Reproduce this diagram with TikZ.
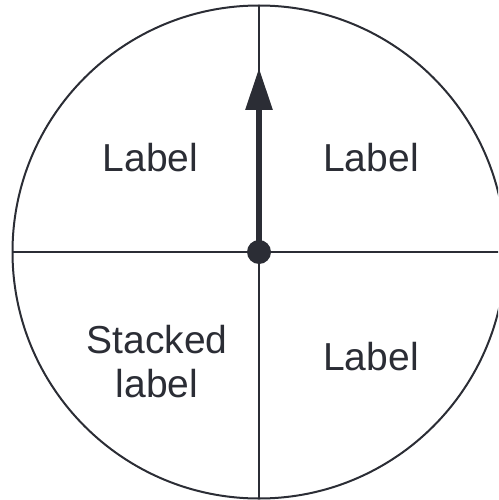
\documentclass[tikz,border=0pt]{standalone}
\usepackage{fontspec}
\setsansfont{Liberation Sans}
\usetikzlibrary{arrows.meta}
\definecolor{ink}{HTML}{2B2D35}
\tikzset{
    sector/.style={text=ink, font=\sffamily\fontsize{39}{44}\selectfont, align=center, inner sep=0pt},
}
\begin{document}
\begin{tikzpicture}[x=1pt, y=-1pt, line width=2pt, color=ink]
    \clip (0,0) rectangle (498,500);
    % Wheel and its two diameters
    \coordinate (O) at (259,252);
    \draw (O) circle (246.5);
    \coordinate (top) at (259,5.5);
    \coordinate (bottom) at (259,498.5);
    \coordinate (left) at (12.5,252);
    \coordinate (right) at (505.5,252);
    \draw (top) -- (bottom);
    \draw (left) -- (right);

    % Pointer from the hub
    \coordinate (tip) at (259,68);
    \draw[line width=6pt, -{Triangle[length=42pt, width=26pt]}] (O) -- (tip);
    \node[circle, fill=ink, inner sep=0pt, minimum size=24pt] (hub) at (O) {};

    % Sector labels
    \node[sector, anchor=base] (ul) at (150.5,171) {Label};
    \node[sector, anchor=base] (ur) at (371,171) {Label};
    \node[sector, anchor=base] (lr) at (371,370) {Label};
    \node[sector, anchor=center] (ll) at (157,362) {Stacked\\label};
\end{tikzpicture}
\end{document}
